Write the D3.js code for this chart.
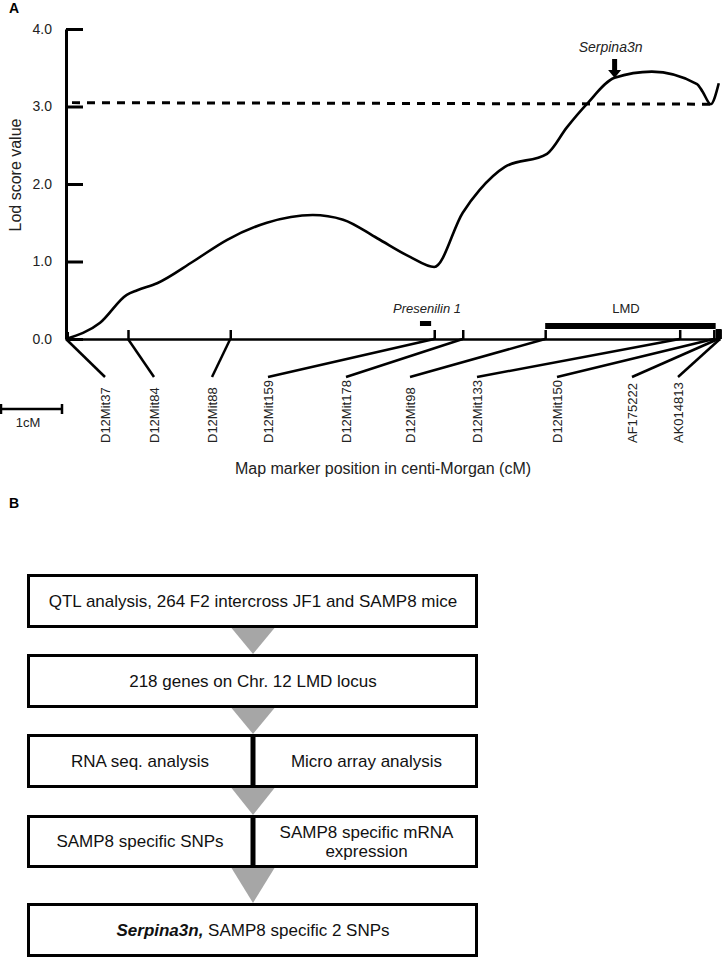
<!DOCTYPE html>
<html>
<head>
<meta charset="utf-8">
<script src="https://cdn.jsdelivr.net/npm/d3@7"></script>
<style>
  body { margin: 0; background: #fff; }
  text { font-family: "Liberation Sans", Arial, sans-serif; }
</style>
</head>
<body>
<div id="root"></div>
<script>
// LOD profile (position in cM, LOD)
const lodPos = [0, 0.55, 0.98, 1.15, 1.47, 2.05, 2.6, 3.24, 3.98, 4.47, 5.02, 5.55, 5.94,
  6.4, 6.67, 7.08, 7.76, 8.08, 8.4, 8.85, 9.45, 10.18, 10.27, 10.4, 10.53];
const lodVal = [0, 0.21, 0.57, 0.63, 0.72, 1.0, 1.28, 1.5, 1.6, 1.54, 1.3, 1.06, 0.93,
  1.63, 1.92, 2.22, 2.39, 2.73, 3.03, 3.37, 3.45, 3.29, 3.19, 3.03, 3.3];
const threshold = [3.05, 3.03];
const yTicks = [0, 1, 2, 3, 4];

const markers = ["D12Mit37", "D12Mit84", "D12Mit88", "D12Mit159", "D12Mit178",
  "D12Mit98", "D12Mit133", "D12Mit150", "AF175222", "AK014813"];
const markerPos = [0, 1.0, 2.65, 5.94, 6.4, 7.73, 9.9, 10.45, 10.52, 10.55];

const presenilin = [5.71, 5.89];
const lmd = [7.73, 10.48];
const serpinaPos = 8.85;

const steps = [
  ["QTL analysis, 264 F2 intercross JF1 and SAMP8 mice"],
  ["218 genes on Chr. 12 LMD locus"],
  ["RNA seq. analysis", "Micro array analysis"],
  ["SAMP8 specific SNPs", "SAMP8 specific mRNA|expression"],
  ["Serpina3n,", " SAMP8 specific 2 SNPs"]
];

const svg = d3.select("#root")
  .append("svg")
  .attr("width", 726)
  .attr("height", 960);

const x = d3.scaleLinear().domain([0, 10.55]).range([66, 720]);
const y = d3.scaleLinear().domain([0, 4]).range([339, 29]);

// panel letters
svg.append("text").attr("x", 9).attr("y", 13)
  .attr("font-size", 14).attr("font-weight", "bold").text("A");
svg.append("text").attr("x", 9).attr("y", 508)
  .attr("font-size", 14).attr("font-weight", "bold").text("B");

// y axis
const yAxis = svg.append("g")
  .attr("transform", "translate(66,0)")
  .call(d3.axisLeft(y).tickValues(yTicks).tickFormat(d3.format(".1f"))
    .tickSize(-17).tickSizeOuter(0).tickPadding(14));
yAxis.select(".domain").attr("stroke-width", 3);
yAxis.selectAll(".tick line").attr("stroke-width", 3);
yAxis.selectAll(".tick text").attr("font-size", 14).attr("fill", "#222")
  .attr("font-family", "Liberation Sans, Arial, sans-serif");

svg.append("text")
  .attr("transform", "translate(21,175) rotate(-90)")
  .attr("text-anchor", "middle")
  .attr("font-size", 16)
  .attr("fill", "#222")
  .text("Lod score value");

// x axis with marker ticks
const xAxis = svg.append("g")
  .attr("transform", "translate(0,339)")
  .call(d3.axisTop(x).tickValues(markerPos).tickFormat("").tickSize(9).tickSizeOuter(0));
xAxis.select(".domain").attr("stroke-width", 2.5);
xAxis.selectAll(".tick line").attr("stroke-width", 2.5);

svg.append("rect")
  .attr("x", x(0) - 1).attr("y", 332).attr("width", 4).attr("height", 7);
svg.append("rect")
  .attr("x", x(lmd[1])).attr("y", 329).attr("width", 6).attr("height", 10);

// threshold line
svg.append("line")
  .attr("x1", 72).attr("x2", 712)
  .attr("y1", y(threshold[0])).attr("y2", y(threshold[1]))
  .attr("stroke", "#000")
  .attr("stroke-width", 3)
  .attr("stroke-dasharray", "8,7");

// LOD curve
const line = d3.line()
  .x(function(d, i) { return x(lodPos[i]); })
  .y(function(d) { return y(d); })
  .curve(d3.curveMonotoneX);

svg.append("path")
  .datum(lodVal)
  .attr("fill", "none")
  .attr("stroke", "#000")
  .attr("stroke-width", 2.6)
  .attr("stroke-linejoin", "round")
  .attr("d", line);

// Serpina3n arrow
const ax = x(serpinaPos);
svg.append("text")
  .attr("x", ax - 4).attr("y", 52)
  .attr("text-anchor", "middle")
  .attr("font-size", 14)
  .attr("font-style", "italic")
  .attr("fill", "#222")
  .text("Serpina3n");
svg.append("rect").attr("x", ax - 2.5).attr("y", 59).attr("width", 5).attr("height", 12);
svg.append("path")
  .attr("d", "M" + (ax - 6.5) + ",70L" + (ax + 6.5) + ",70L" + ax + ",78Z");

// Presenilin 1 and LMD bars
svg.append("rect")
  .attr("x", x(presenilin[0])).attr("y", 321)
  .attr("width", x(presenilin[1]) - x(presenilin[0])).attr("height", 5);
svg.append("text")
  .attr("x", 427).attr("y", 313)
  .attr("text-anchor", "middle")
  .attr("font-size", 13)
  .attr("font-style", "italic")
  .attr("fill", "#222")
  .text("Presenilin 1");

svg.append("rect")
  .attr("x", x(lmd[0])).attr("y", 323)
  .attr("width", x(lmd[1]) - x(lmd[0])).attr("height", 6);
svg.append("text")
  .attr("x", 626).attr("y", 313)
  .attr("text-anchor", "middle")
  .attr("font-size", 13)
  .attr("fill", "#222")
  .text("LMD");

// marker labels
const labelSlots = [105, 154, 212, 268, 346, 410, 477, 557, 632, 678];

svg.selectAll(".link")
  .data(markers)
  .enter().append("line")
    .attr("class", "link")
    .attr("x1", function(d, i) { return x(markerPos[i]); })
    .attr("y1", 339)
    .attr("x2", function(d, i) { return labelSlots[i]; })
    .attr("y2", 377)
    .attr("stroke", "#000")
    .attr("stroke-width", 2.5);

svg.selectAll(".marker")
  .data(markers)
  .enter().append("text")
    .attr("class", "marker")
    .attr("transform", function(d, i) { return "translate(" + labelSlots[i] + ",443) rotate(-90)"; })
    .attr("dy", "0.35em")
    .attr("font-size", 13)
    .attr("fill", "#222")
    .text(function(d) { return d; });

svg.append("text")
  .attr("x", 383).attr("y", 474)
  .attr("text-anchor", "middle")
  .attr("font-size", 16)
  .attr("fill", "#222")
  .text("Map marker position in centi-Morgan (cM)");

// scale bar
svg.append("path")
  .attr("d", "M1,409H62M1,404V414M62,404V414")
  .attr("stroke", "#000")
  .attr("stroke-width", 2.5)
  .attr("fill", "none");
svg.append("text")
  .attr("x", 28).attr("y", 427)
  .attr("text-anchor", "middle")
  .attr("font-size", 13)
  .attr("fill", "#222")
  .text("1cM");

// flowchart
const boxTop = [574, 654, 734, 815, 903];
const boxBottom = [628, 708, 788, 868, 957];
const left = 27, right = 478, mid = 253;

// triangles between boxes
for (let i = 0; i < 4; i++) {
  svg.append("path")
    .attr("d", "M" + (mid - 21.5) + "," + boxBottom[i] + "L" + (mid + 21.5) + "," + boxBottom[i] +
      "L" + mid + "," + boxTop[i + 1] + "Z")
    .attr("fill", "#a6a6a6");
}

steps.forEach(function(s, i) {
  const top = boxTop[i], bot = boxBottom[i], cy = (top + bot) / 2;
  svg.append("rect")
    .attr("x", left + 1.5).attr("y", top + 1.5)
    .attr("width", right - left - 3).attr("height", bot - top - 3)
    .attr("fill", "#fff")
    .attr("stroke", "#000")
    .attr("stroke-width", 3);

  if (i === 2 || i === 3) {
    svg.append("line")
      .attr("x1", mid).attr("x2", mid)
      .attr("y1", top).attr("y2", bot)
      .attr("stroke", "#000").attr("stroke-width", 5);
    const cols = [(left + mid) / 2, (mid + right) / 2];
    s.forEach(function(t, j) {
      const lines = t.split("|");
      lines.forEach(function(l, k) {
        svg.append("text")
          .attr("x", cols[j] + (j === 1 ? 1 : 0))
          .attr("y", cy + (k - (lines.length - 1) / 2) * 19)
          .attr("dy", "0.35em")
          .attr("text-anchor", "middle")
          .attr("font-size", 17)
          .attr("fill", "#111")
          .text(l);
      });
    });
  } else if (i === 4) {
    const t = svg.append("text")
      .attr("x", mid).attr("y", cy)
      .attr("dy", "0.35em")
      .attr("text-anchor", "middle")
      .attr("font-size", 17)
      .attr("fill", "#111");
    t.append("tspan").attr("font-weight", "bold").attr("font-style", "italic").text(s[0]);
    t.append("tspan").text(s[1]);
  } else {
    svg.append("text")
      .attr("x", mid).attr("y", cy)
      .attr("dy", "0.35em")
      .attr("text-anchor", "middle")
      .attr("font-size", 17)
      .attr("fill", "#111")
      .text(s[0]);
  }
});
</script>
</body>
</html>
